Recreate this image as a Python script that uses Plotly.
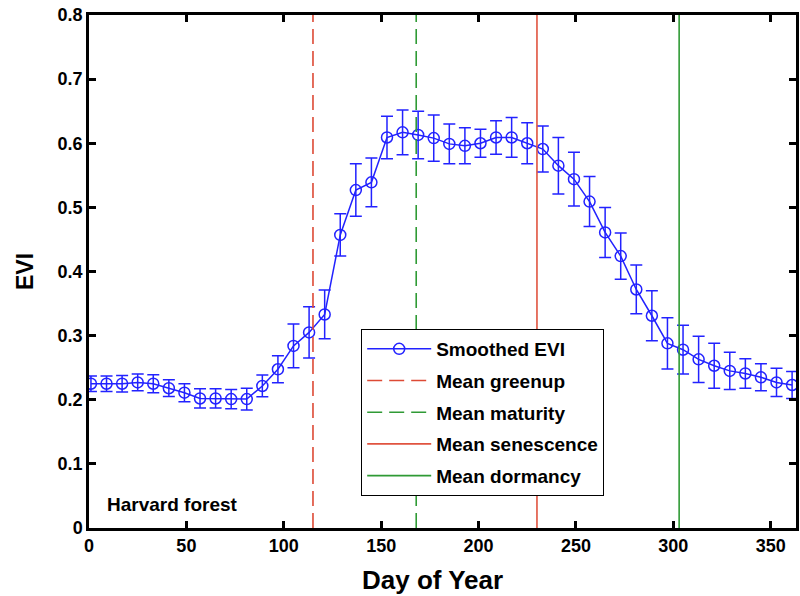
import plotly.graph_objects as go

days = [1, 9, 17, 25, 33, 41, 49, 57, 65, 73, 81, 89, 97, 105, 113, 121,
        129, 137, 145, 153, 161, 169, 177, 185, 193, 201, 209, 217, 225, 233,
        241, 249, 257, 265, 273, 281, 289, 297, 305, 313, 321, 329, 337, 345, 353, 361]
evi = [0.225, 0.225, 0.225, 0.227, 0.225, 0.218, 0.211, 0.202, 0.202, 0.201, 0.201,
       0.2215, 0.2475, 0.284, 0.305, 0.333,
       0.457, 0.527, 0.539, 0.609, 0.617, 0.613, 0.608, 0.599, 0.596, 0.600,
       0.609, 0.609, 0.600, 0.591, 0.565, 0.544, 0.509, 0.461, 0.424, 0.372,
       0.331, 0.288, 0.278, 0.263, 0.253, 0.245, 0.241, 0.235, 0.227, 0.223]
err = [0.012, 0.012, 0.013, 0.013, 0.014, 0.013, 0.014, 0.015, 0.015, 0.015, 0.017,
       0.017, 0.021, 0.034, 0.040, 0.038,
       0.033, 0.041, 0.038, 0.033, 0.035, 0.037, 0.036, 0.031, 0.028, 0.022,
       0.026, 0.031, 0.032, 0.036, 0.044, 0.042, 0.039, 0.039, 0.036, 0.038,
       0.039, 0.040, 0.038, 0.036, 0.035, 0.029, 0.023, 0.021, 0.022, 0.021]

phase_names = ["Mean greenup", "Mean maturity", "Mean senescence", "Mean dormancy"]
phase_days = [115, 168, 230, 303]
phase_colors = ["#dd4a35", "#2f9a35", "#e0533f", "#2f9a35"]
phase_dash = ["15px,7px", "15px,7px", "solid", "solid"]

x_ticks = [0, 50, 100, 150, 200, 250, 300, 350]
y_ticks = [0, 0.1, 0.2, 0.3, 0.4, 0.5, 0.6, 0.7, 0.8]
y_labels = ["0", "0.1", "0.2", "0.3", "0.4", "0.5", "0.6", "0.7", "0.8"]

FONT = "Liberation Sans, Arial, sans-serif"
BLUE = "#2222ff"

fig = go.Figure()
fig.add_trace(go.Scatter(
    x=days, y=evi, mode="lines+markers", name="Smoothed EVI",
    legendgroup="g0",
    line=dict(color=BLUE, width=1.5),
    marker=dict(symbol="circle-open", size=11, color=BLUE, line=dict(width=1.5, color=BLUE)),
    error_y=dict(type="data", array=err, visible=True, color=BLUE, thickness=1.5, width=6),
))
for i, (n, d, c, ds) in enumerate(zip(phase_names, phase_days, phase_colors, phase_dash)):
    fig.add_trace(go.Scatter(
        x=[d, d], y=[0, 0.8], mode="lines", name=n, legendgroup=f"g{i+1}",
        line=dict(color=c, width=1.6, dash=ds),
    ))

axis_common = dict(
    showline=True, linecolor="black", linewidth=2.5, mirror="ticks",
    ticks="inside", ticklen=7, tickwidth=2.5, tickcolor="black",
    showgrid=False, zeroline=False,
    tickfont=dict(family=FONT, size=18, color="black", weight="bold"),
)

fig.update_layout(
    width=800, height=596,
    margin=dict(l=89, r=1, t=15, b=68),
    plot_bgcolor="white", paper_bgcolor="white",
    xaxis=dict(range=[0, 363], tickvals=x_ticks, ticktext=[str(v) for v in x_ticks],
               **axis_common),
    yaxis=dict(range=[0, 0.8], tickvals=y_ticks, ticktext=y_labels,
               title=dict(text="EVI", font=dict(family=FONT, size=23, color="black", weight="bold"),
                          standoff=18),
               **axis_common),
    showlegend=True,
    legend=dict(
        x=0.385, y=0.388, xanchor="left", yanchor="top",
        bgcolor="white", bordercolor="black", borderwidth=1,
        font=dict(family=FONT, size=19, color="black", weight="bold"),
        traceorder="grouped", tracegroupgap=4, itemwidth=64,
    ),
    annotations=[
        dict(text="Harvard forest", xref="paper", yref="paper", x=0.022, y=0.045,
             xanchor="left", yanchor="middle", showarrow=False,
             font=dict(family=FONT, size=19, color="black", weight="bold")),
        dict(text="Day of Year", xref="paper", yref="paper", x=0.486, y=-0.102,
             xanchor="center", yanchor="middle", showarrow=False,
             font=dict(family=FONT, size=26, color="black", weight="bold")),
    ],
)

fig.write_html("out.html")
